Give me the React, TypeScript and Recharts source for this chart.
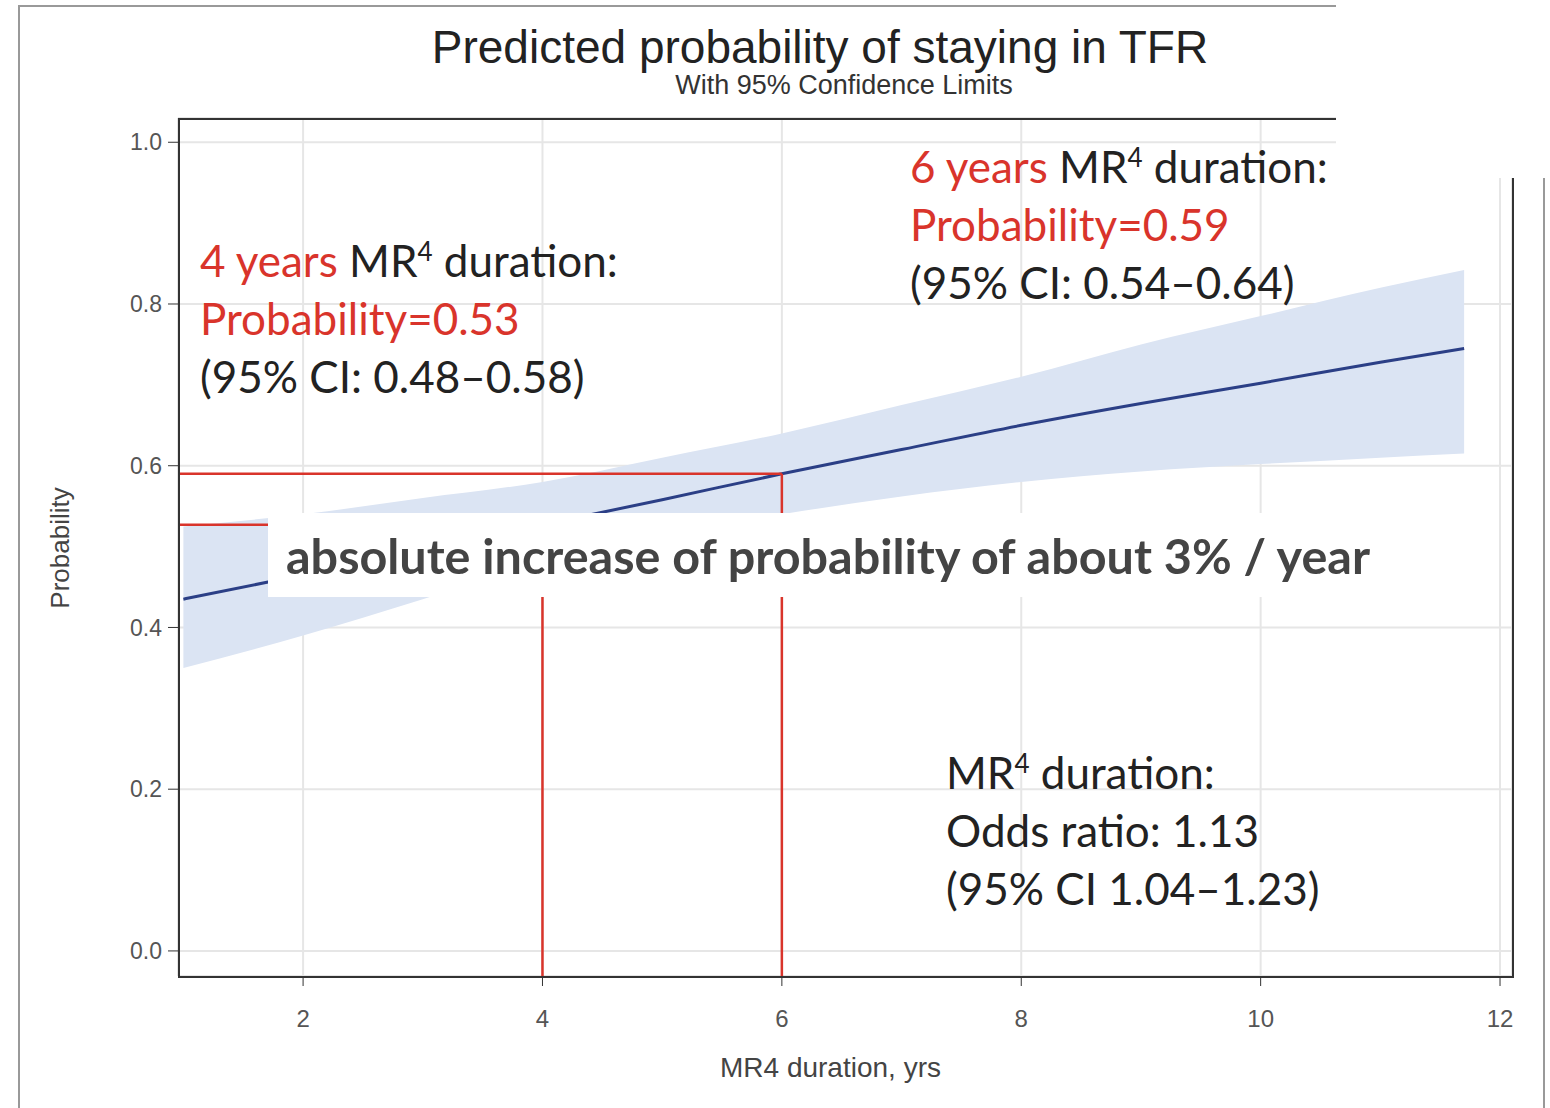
import { Area, CartesianGrid, ComposedChart, Line, ReferenceLine, XAxis, YAxis } from "recharts";

const years = [1, 2, 3, 4, 5, 6, 7, 8, 9, 10, 11, 11.7];
const predicted = [0.435, 0.465, 0.496, 0.527, 0.558, 0.59, 0.62, 0.65, 0.677, 0.702, 0.728, 0.745];
const lowerCL = [0.35, 0.39, 0.435, 0.48, 0.515, 0.54, 0.562, 0.58, 0.593, 0.602, 0.61, 0.615];
const upperCL = [0.525, 0.54, 0.56, 0.58, 0.61, 0.64, 0.675, 0.71, 0.75, 0.785, 0.82, 0.842];
const xTicks = [2, 4, 6, 8, 10, 12];
const yTicks = [0, 0.2, 0.4, 0.6, 0.8, 1.0];
const marked = [
  { x: 4, p: 0.527 },
  { x: 6, p: 0.59 },
];

const data = years.map((x, i) => ({ x, p: predicted[i], band: [lowerCL[i], upperCL[i]] }));

const RED = "#d9342b";
const note = { position: "absolute" as const, fontFamily: "Lato, 'Open Sans', sans-serif", fontSize: 44, lineHeight: "58px", color: "#222" };
const sup = { fontSize: 26 };

export default function App() {
  return (
    <div style={{ position: "absolute", left: 0, top: 0, width: 1550, height: 1108, background: "#fff", overflow: "hidden", fontFamily: "'Liberation Sans', Arial, sans-serif" }}>
      <div style={{ position: "absolute", left: 18, top: 5, width: 1600, height: 1200, border: "2px solid #999" }} />
      <ComposedChart width={1550} height={1108} data={data} margin={{ top: 118, left: 118, right: 38, bottom: 92 }} style={{ position: "absolute", left: 0, top: 0 }}>
        <CartesianGrid stroke="#e6e6e6" strokeWidth={2} />
        <XAxis dataKey="x" type="number" domain={[0.955, 12.1]} ticks={xTicks} allowDataOverflow height={40}
          tick={{ fill: "#555", fontSize: 24, dy: 22 }} tickLine={{ stroke: "#333" }} tickSize={10} axisLine={false} />
        <YAxis type="number" domain={[-0.031, 1.03]} ticks={yTicks} allowDataOverflow width={60}
          tickFormatter={(v: number) => v.toFixed(1)} tick={{ fill: "#555", fontSize: 23, dx: -4 }} tickLine={{ stroke: "#333" }} tickSize={10} axisLine={false} />
        <Area dataKey="band" type="monotone" stroke="none" fill="#dbe4f3" fillOpacity={1} isAnimationActive={false} />
        <Line dataKey="p" type="monotone" stroke="#2b3f86" strokeWidth={3} dot={false} isAnimationActive={false} />
        {marked.map((m) => (
          <ReferenceLine key={"h" + m.x} segment={[{ x: 0.955, y: m.p }, { x: m.x, y: m.p }]} stroke={RED} strokeWidth={2.5} ifOverflow="extendDomain" />
        ))}
        {marked.map((m) => (
          <ReferenceLine key={"v" + m.x} segment={[{ x: m.x, y: m.p }, { x: m.x, y: -0.031 }]} stroke={RED} strokeWidth={2.5} ifOverflow="extendDomain" />
        ))}
      </ComposedChart>
      <div style={{ position: "absolute", left: 178, top: 118, width: 1332, height: 856, border: "2px solid #333", pointerEvents: "none" }} />
      <div style={{ position: "absolute", left: 0, top: 20, width: 1640, textAlign: "center", fontSize: 46, color: "#222" }}>Predicted probability of staying in TFR</div>
      <div style={{ position: "absolute", left: 0, top: 70, width: 1688, textAlign: "center", fontSize: 27, color: "#333" }}>With 95% Confidence Limits</div>
      <div style={{ position: "absolute", left: 1336, top: 0, width: 214, height: 178, background: "#fff" }} />
      <div style={{ position: "absolute", left: 1543, top: 178, width: 2, height: 930, background: "#999" }} />
      <div style={{ position: "absolute", left: 60, top: 548, transform: "translate(-50%,-50%) rotate(-90deg)", fontSize: 26, color: "#444", whiteSpace: "nowrap" }}>Probability</div>
      <div style={{ position: "absolute", left: 720, top: 1052, fontSize: 28, color: "#444", whiteSpace: "nowrap" }}>MR4 duration, yrs</div>
      <div style={{ ...note, left: 200, top: 222 }}>
        <div><span style={{ color: RED }}>4 years</span> MR<sup style={sup}>4</sup> duration:</div>
        <div style={{ color: RED }}>Probability=0.53</div>
        <div>(95% CI: 0.48–0.58)</div>
      </div>
      <div style={{ ...note, left: 910, top: 128 }}>
        <div><span style={{ color: RED }}>6 years</span> MR<sup style={sup}>4</sup> duration:</div>
        <div style={{ color: RED }}>Probability=0.59</div>
        <div>(95% CI: 0.54–0.64)</div>
      </div>
      <div style={{ ...note, left: 946, top: 734 }}>
        <div>MR<sup style={sup}>4</sup> duration:</div>
        <div>Odds ratio: 1.13</div>
        <div>(95% CI 1.04–1.23)</div>
      </div>
      <div style={{ position: "absolute", left: 268, top: 513, width: 1125, height: 84, background: "#fff", fontFamily: "Lato, 'Open Sans', sans-serif", fontWeight: 700, fontSize: 48.5, color: "#444", lineHeight: "84px", paddingLeft: 18, boxSizing: "border-box", whiteSpace: "nowrap" }}>
        absolute increase of probability of about 3% / year
      </div>
    </div>
  );
}
